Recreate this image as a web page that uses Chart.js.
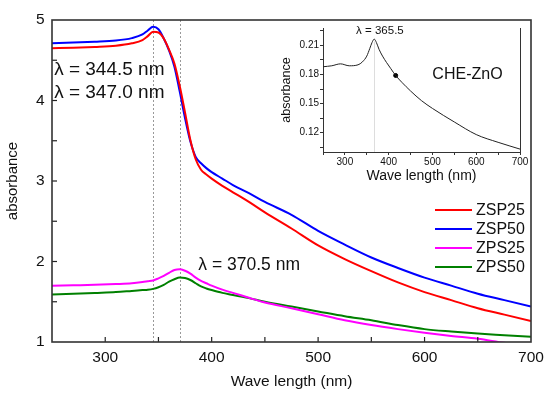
<!DOCTYPE html>
<html>
<head>
<meta charset="utf-8">
<script src="https://cdn.jsdelivr.net/npm/chart.js@4.4.0/dist/chart.umd.min.js"></script>
<style>
  html, body { margin: 0; padding: 0; background: #fff; }
  #wrap { position: relative; width: 550px; height: 394px; }
  #mainChart { position: absolute; left: 0; top: 0; }
  #insetChart { position: absolute; left: 270px; top: 20px; }
</style>
</head>
<body>
<div id="wrap">
  <canvas id="mainChart" width="550" height="394"></canvas>
  <canvas id="insetChart" width="262" height="170"></canvas>
</div>
<script>
// main spectra
var wavelength = [250, 270, 290, 310, 325, 335, 340, 345, 350, 355, 360, 365, 370, 375, 380, 385, 390, 395, 400, 410, 420, 435, 450, 475, 500, 525, 550, 575, 600, 625, 650, 675, 700];
var zsp25 = [4.65, 4.655, 4.665, 4.68, 4.71, 4.75, 4.80, 4.855, 4.845, 4.77, 4.63, 4.46, 4.18, 3.85, 3.51, 3.27, 3.14, 3.08, 3.03, 2.94, 2.86, 2.74, 2.61, 2.41, 2.20, 2.03, 1.88, 1.74, 1.62, 1.52, 1.42, 1.34, 1.26];
var zsp50 = [4.71, 4.72, 4.73, 4.745, 4.775, 4.82, 4.87, 4.915, 4.885, 4.77, 4.62, 4.42, 4.11, 3.78, 3.49, 3.30, 3.22, 3.16, 3.11, 3.03, 2.95, 2.85, 2.74, 2.58, 2.38, 2.21, 2.05, 1.92, 1.80, 1.70, 1.60, 1.52, 1.44];
var zps25 = [1.70, 1.705, 1.71, 1.72, 1.73, 1.745, 1.755, 1.765, 1.79, 1.82, 1.86, 1.895, 1.905, 1.885, 1.85, 1.80, 1.76, 1.73, 1.70, 1.65, 1.61, 1.55, 1.49, 1.42, 1.345, 1.27, 1.21, 1.16, 1.115, 1.075, 1.04, 0.99, 0.95];
var zps50 = [1.59, 1.60, 1.61, 1.62, 1.635, 1.645, 1.65, 1.66, 1.68, 1.71, 1.75, 1.78, 1.80, 1.795, 1.77, 1.73, 1.69, 1.665, 1.645, 1.61, 1.585, 1.545, 1.50, 1.44, 1.38, 1.32, 1.27, 1.21, 1.16, 1.13, 1.105, 1.085, 1.065];
var seriesNames = ['ZSP25', 'ZSP50', 'ZPS25', 'ZPS50'];
var seriesColors = ['#ff0000', '#0000ff', '#ff00ff', '#008000'];
var peakLines = [345, 370.5];

// inset (CHE-ZnO)
var insetWavelength = [250, 270, 290, 310, 330, 340, 350, 357, 362, 367, 372, 378, 386, 395, 405, 416, 430, 450, 475, 500, 550, 600, 650, 700];
var insetAbs = [0.188, 0.189, 0.191, 0.189, 0.190, 0.193, 0.199, 0.207, 0.213, 0.2165, 0.213, 0.206, 0.199, 0.1925, 0.186, 0.179, 0.172, 0.163, 0.153, 0.145, 0.131, 0.118, 0.110, 0.103];
var insetDot = [416, 0.179];
var insetPeak = 365.5;
var insetYTicks = [0.105, 0.12, 0.135, 0.15, 0.165, 0.18, 0.195, 0.21, 0.225];

var FONT = "'Liberation Sans', Arial, sans-serif";

function toPoints(xs, ys) {
  var pts = [];
  for (var i = 0; i < xs.length; i++) pts.push({ x: xs[i], y: ys[i] });
  return pts;
}

var mainDecor = {
  id: 'mainDecor',
  beforeDatasetsDraw: function(chart) {
    var ctx = chart.ctx, a = chart.chartArea, xs = chart.scales.x;
    ctx.save();
    ctx.strokeStyle = '#999';
    ctx.lineWidth = 1;
    ctx.setLineDash([2, 2]);
    peakLines.forEach(function(w) {
      var px = Math.round(xs.getPixelForValue(w)) + 0.5;
      ctx.beginPath();
      ctx.moveTo(px, a.top);
      ctx.lineTo(px, a.bottom);
      ctx.stroke();
    });
    ctx.restore();
  },
  afterDraw: function(chart) {
    var ctx = chart.ctx, a = chart.chartArea, xs = chart.scales.x, ys = chart.scales.y;
    ctx.save();
    ctx.strokeStyle = '#222';
    ctx.lineWidth = 1.2;
    // inward ticks
    for (var w = 300; w < 700; w += 50) {
      var px = xs.getPixelForValue(w);
      ctx.beginPath(); ctx.moveTo(px, a.bottom); ctx.lineTo(px, a.bottom - 5); ctx.stroke();
    }
    for (var v = 1.5; v < 5; v += 0.5) {
      var py = ys.getPixelForValue(v);
      ctx.beginPath(); ctx.moveTo(a.left, py); ctx.lineTo(a.left + 5, py); ctx.stroke();
    }
    // frame
    ctx.lineWidth = 1.6;
    ctx.strokeStyle = '#333';
    ctx.strokeRect(a.left, a.top, a.right - a.left, a.bottom - a.top);

    // peak labels
    ctx.fillStyle = '#111';
    ctx.textBaseline = 'middle';
    ctx.textAlign = 'left';
    ctx.font = '19px ' + FONT;
    ctx.fillText('\u03bb = 344.5 nm', xs.getPixelForValue(252), ys.getPixelForValue(4.38));
    ctx.fillText('\u03bb = 347.0 nm', xs.getPixelForValue(252), ys.getPixelForValue(4.09));
    ctx.font = '17.5px ' + FONT;
    ctx.fillText('\u03bb = 370.5 nm', xs.getPixelForValue(387.5), ys.getPixelForValue(1.96));

    // legend
    ctx.font = '16px ' + FONT;
    chart.data.datasets.forEach(function(ds, i) {
      var y = 210 + i * 19;
      ctx.strokeStyle = ds.borderColor;
      ctx.lineWidth = 2;
      ctx.beginPath();
      ctx.moveTo(a.right - 96, y);
      ctx.lineTo(a.right - 59, y);
      ctx.stroke();
      ctx.fillStyle = '#111';
      ctx.fillText(ds.label, a.right - 55, y + 1);
    });
    ctx.restore();
  }
};

var mainDatasets = [zsp25, zsp50, zps25, zps50].map(function(vals, i) {
  return {
    label: seriesNames[i],
    data: toPoints(wavelength, vals),
    borderColor: seriesColors[i],
    borderWidth: 2,
    pointRadius: 0,
    fill: false,
    cubicInterpolationMode: 'monotone'
  };
});

new Chart(document.getElementById('mainChart'), {
  type: 'line',
  data: { datasets: mainDatasets },
  options: {
    responsive: false,
    animation: false,
    layout: { padding: { top: 20, right: 19, left: 0, bottom: 0 } },
    plugins: { legend: { display: false }, tooltip: { enabled: false } },
    scales: {
      x: {
        type: 'linear', min: 250, max: 700,
        afterBuildTicks: function(s) { s.ticks = s.ticks.filter(function(t) { return t.value % 100 === 0; }); },
        afterFit: function(s) { s.height = 52; },
        ticks: { stepSize: 100, padding: 6, color: '#111', maxRotation: 0, font: { family: FONT, size: 15.5 } },
        grid: { display: false, drawTicks: false },
        border: { display: false },
        title: { display: true, text: 'Wave length (nm)', color: '#111', font: { family: FONT, size: 15.5 }, padding: { top: 0, bottom: 3 } }
      },
      y: {
        min: 1, max: 5,
        afterFit: function(s) { s.width = 52; },
        ticks: { stepSize: 1, padding: 7.5, color: '#111', font: { family: FONT, size: 15.5 } },
        grid: { display: false, drawTicks: false },
        border: { display: false },
        title: { display: true, text: 'absorbance', color: '#111', font: { family: FONT, size: 15 }, padding: { top: 4, bottom: 0 } }
      }
    }
  },
  plugins: [mainDecor]
});

var insetDecor = {
  id: 'insetDecor',
  beforeDatasetsDraw: function(chart) {
    var ctx = chart.ctx, a = chart.chartArea, xs = chart.scales.x, ys = chart.scales.y;
    ctx.save();
    ctx.strokeStyle = '#ddd';
    ctx.lineWidth = 1;
    var px = Math.round(xs.getPixelForValue(insetPeak)) + 0.5;
    ctx.beginPath();
    ctx.moveTo(px, ys.getPixelForValue(0.214));
    ctx.lineTo(px, a.bottom);
    ctx.stroke();
    ctx.restore();
  },
  afterDraw: function(chart) {
    var ctx = chart.ctx, a = chart.chartArea, xs = chart.scales.x, ys = chart.scales.y;
    ctx.save();
    ctx.strokeStyle = '#333';
    ctx.lineWidth = 1;
    ctx.beginPath();
    ctx.moveTo(a.right + 0.5, a.top);
    ctx.lineTo(a.right + 0.5, a.bottom);
    ctx.stroke();
    ctx.fillStyle = '#111';
    ctx.textBaseline = 'middle';
    ctx.textAlign = 'center';
    ctx.font = '11.5px ' + FONT;
    ctx.fillText('\u03bb = ' + insetPeak, xs.getPixelForValue(380), ys.getPixelForValue(0.2255));
    ctx.font = '16px ' + FONT;
    ctx.fillText('CHE-ZnO', xs.getPixelForValue(580), ys.getPixelForValue(0.18));
    ctx.restore();
  }
};

new Chart(document.getElementById('insetChart'), {
  type: 'line',
  data: {
    datasets: [
      { data: toPoints(insetWavelength, insetAbs), borderColor: '#222', borderWidth: 1, pointRadius: 0, fill: false, cubicInterpolationMode: 'monotone' },
      { data: [{ x: insetDot[0], y: insetDot[1] }], showLine: false, pointRadius: 2, pointBackgroundColor: '#000', pointBorderColor: '#000' }
    ]
  },
  options: {
    responsive: false,
    animation: false,
    layout: { padding: { top: 8, right: 12, left: 0, bottom: 0 } },
    plugins: { legend: { display: false }, tooltip: { enabled: false } },
    scales: {
      x: {
        type: 'linear', min: 250, max: 700,
        afterFit: function(s) { s.height = 38; },
        ticks: {
          stepSize: 50, padding: 1, color: '#111', maxRotation: 0, autoSkip: false,
          font: { family: FONT, size: 10 },
          callback: function(v) { return v % 100 === 0 ? String(v) : ''; }
        },
        grid: { drawOnChartArea: false, tickLength: 3, color: '#333' },
        border: { color: '#333', width: 1 },
        title: { display: true, text: 'Wave length (nm)', color: '#111', font: { family: FONT, size: 14 }, padding: { top: 0, bottom: 5 } }
      },
      y: {
        min: 0.10, max: 0.228,
        afterBuildTicks: function(s) { s.ticks = insetYTicks.map(function(v) { return { value: v }; }); },
        afterFit: function(s) { s.width = 53; },
        ticks: {
          padding: 1, color: '#111', autoSkip: false,
          font: { family: FONT, size: 10 },
          callback: function(v) { return Math.round(v * 1000) % 30 === 0 ? v.toFixed(2) : ''; }
        },
        grid: { drawOnChartArea: false, tickLength: 3, color: '#333' },
        border: { color: '#333', width: 1 },
        title: { display: true, text: 'absorbance', color: '#111', font: { family: FONT, size: 12.5 }, padding: { top: 9.5, bottom: 0 } }
      }
    }
  },
  plugins: [insetDecor]
});
</script>
</body>
</html>
